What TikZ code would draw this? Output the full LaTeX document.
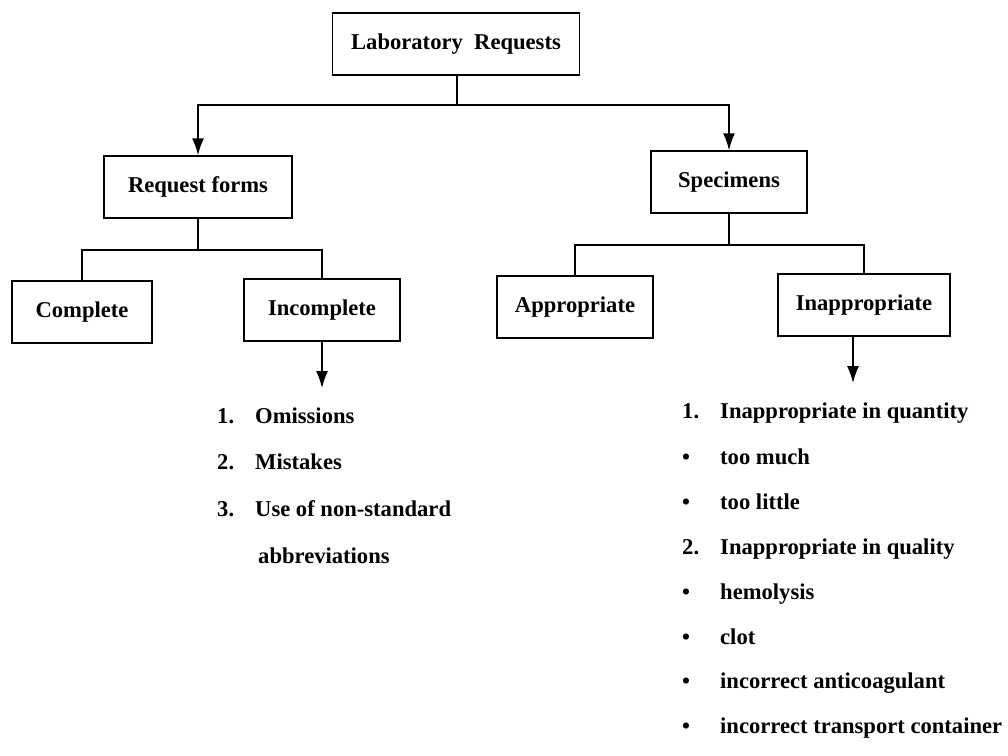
\documentclass[tikz,border=0pt]{standalone}
\usepackage{fontspec}
\setmainfont{Liberation Serif}
\usetikzlibrary{arrows.meta}
\tikzset{>={Latex[length=17pt,width=12pt]}}
\tikzset{
  box/.style={draw,line width=1.5pt,minimum height=62pt,inner sep=0pt,
    text height=15pt,text depth=5pt,font=\bfseries\fontsize{22.6}{26}\selectfont},
  branch/.style={line width=1.5pt},
  listitem/.style={anchor=west,inner sep=0pt,text height=15pt,text depth=5pt,
    font=\bfseries\fontsize{22.6}{26}\selectfont},
}

\begin{document}
\begin{tikzpicture}[x=1pt,y=-1pt]
  \useasboundingbox (0,0) rectangle (1008,755);
  % boxes
  \node[box,minimum width=247pt] (lab) at (456,44) {Laboratory\ \ Requests};
  \node[box,minimum width=188pt] (forms) at (198,187) {Request forms};
  \node[box,minimum width=156pt] (spec) at (729,182) {Specimens};
  \node[box,minimum width=140pt] (compl) at (82,312) {Complete};
  \node[box,minimum width=156pt] (incompl) at (322,310) {Incomplete};
  \node[box,minimum width=156pt] (appr) at (575,307) {Appropriate};
  \node[box,minimum width=172pt] (inappr) at (864,305) {Inappropriate};
  % junctions
  \coordinate (jlab) at (457,105);
  \coordinate (jforms) at (198,250);
  \coordinate (jspec) at (729,245);
  \coordinate (incend) at (322,388);
  \coordinate (inapend) at (853,383);
  \draw[branch] (lab.south -| jlab) -- (jlab);
  \draw[branch,->] (jlab) -| (forms.north);
  \draw[branch,->] (jlab) -| (spec.north);
  \draw[branch] (forms) -- (jforms);
  \draw[branch] (jforms) -| (compl.north);
  \draw[branch] (jforms) -| (incompl.north);
  \draw[branch] (spec) -- (jspec);
  \draw[branch] (jspec) -| (appr.north);
  \draw[branch] (jspec) -| (inappr.north);
  \draw[branch,->] (incompl.south) -- (incend);
  \draw[branch,->] (inappr.south -| inapend) -- (inapend);
  % list under Incomplete
  \foreach \y/\n/\t [count=\i] in {418/1./Omissions,464/2./Mistakes,511/3./Use of non-standard}
    {\node[listitem] (lnum\i) at (217,\y) {\n};
     \node[listitem] (ltxt\i) at (255,\y) {\t};}
  \node[listitem] (ltxt4) at (258,558) {abbreviations};
  % list under Inappropriate
  \foreach \y/\n/\t [count=\i] in {413/1./Inappropriate in quantity,459/\textbullet/too much,
      504/\textbullet/too little,549/2./Inappropriate in quality,594/\textbullet/hemolysis,
      639/\textbullet/clot,683/\textbullet/incorrect anticoagulant,
      728/\textbullet/incorrect transport container}
    {\node[listitem] (rnum\i) at (682,\y) {\n};
     \node[listitem] (rtxt\i) at (720,\y) {\t};}
\end{tikzpicture}
\end{document}
